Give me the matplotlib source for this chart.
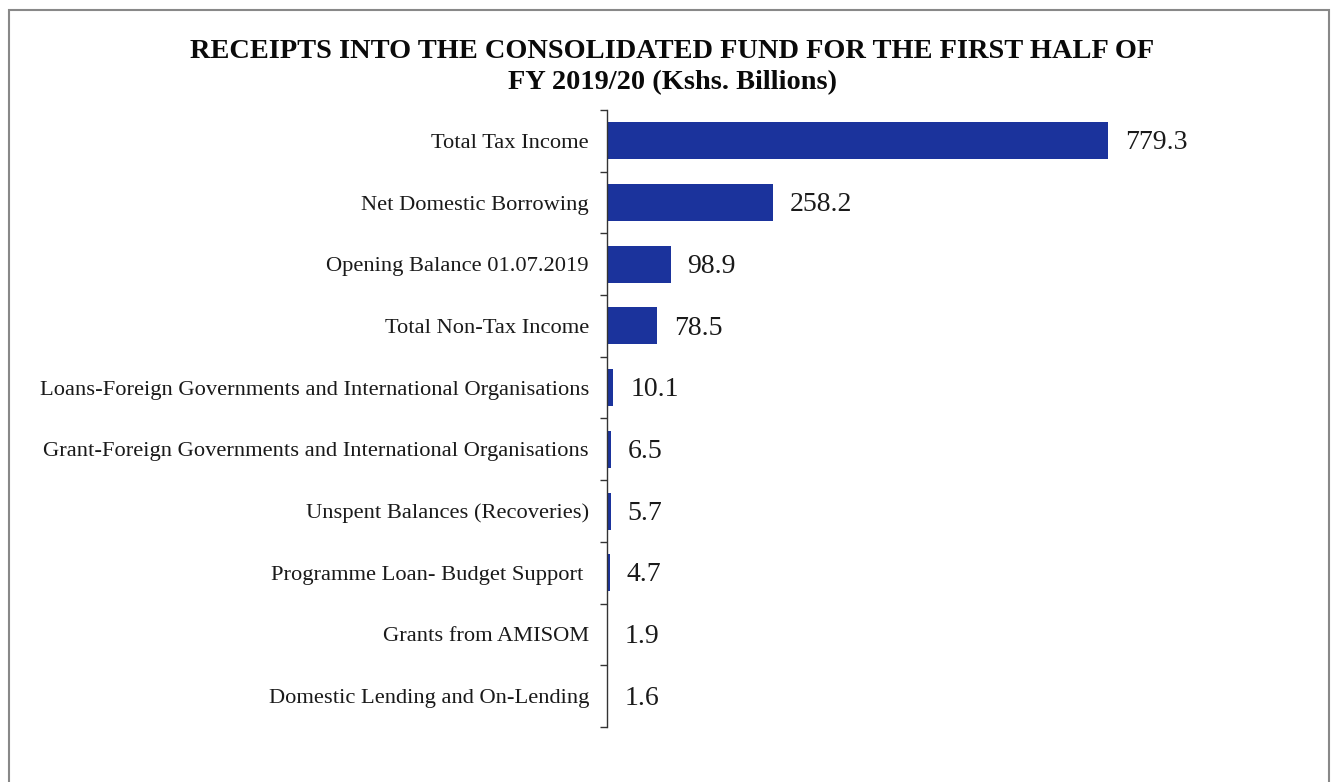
import matplotlib
matplotlib.use("Agg")
import matplotlib.pyplot as plt
from matplotlib.patches import Rectangle

categories = [
    "Total Tax Income",
    "Net Domestic Borrowing",
    "Opening Balance 01.07.2019",
    "Total Non-Tax Income",
    "Loans-Foreign Governments and International Organisations",
    "Grant-Foreign Governments and International Organisations",
    "Unspent Balances (Recoveries)",
    "Programme Loan- Budget Support ",
    "Grants from AMISOM",
    "Domestic Lending and On-Lending",
]
values = [779.3, 258.2, 98.9, 78.5, 10.1, 6.5, 5.7, 4.7, 1.9, 1.6]
title = "RECEIPTS INTO THE CONSOLIDATED FUND FOR THE FIRST HALF OF\nFY 2019/20 (Kshs. Billions)"

W, H = 1331, 782
plt.rcParams["font.family"] = ["Liberation Serif", "DejaVu Serif"]
fig = plt.figure(figsize=(W / 100, H / 100), dpi=100)

# axes placed in pixel terms: left edge at the value axis, spanning the bar rows
x0, x1 = 607, 1290
y_top, y_bot = 110, 727
ax = fig.add_axes([x0 / W, 1 - y_bot / H, (x1 - x0) / W, (y_bot - y_top) / H])

bar_color = "#1b339c"
pos = list(range(len(categories)))
ax.barh(pos, values, height=0.6, color=bar_color)
ax.set_ylim(len(categories) - 0.5, -0.5)
ax.set_xlim(0, (x1 - x0) * 779.3 / (1108 - x0))

ax.set_yticks(pos)
ax.set_yticklabels(categories, fontsize=16.2, color="#1a1a1a")
ax.tick_params(axis="y", length=0, pad=13)
ax.set_yticks([p - 0.5 for p in pos] + [len(categories) - 0.5], minor=True)
ax.tick_params(axis="y", which="minor", length=5, width=1, color="#333333", direction="out")
ax.set_xticks([])
for s in ("top", "right", "bottom"):
    ax.spines[s].set_visible(False)
ax.spines["left"].set_color("#333333")
ax.spines["left"].set_linewidth(1)

for p, v in zip(pos, values):
    ax.annotate(f"{v:.1f}", xy=(v, p), xytext=(12, -1.5), textcoords="offset points",
                va="center", ha="left", fontsize=20, color="#1a1a1a")

fig.text(672 / W, 1 - 67 / H, title, ha="center", va="center", fontsize=20.4,
         fontweight="bold", linespacing=1.35, color="#0a0a0a")

# page frame
fig.patches.append(Rectangle((9 / W, -0.05), (1329 - 9) / W, 1.05 - 10 / H,
                             transform=fig.transFigure, fill=False,
                             edgecolor="#888888", linewidth=1.5))

fig.savefig("out.png", dpi=100)
